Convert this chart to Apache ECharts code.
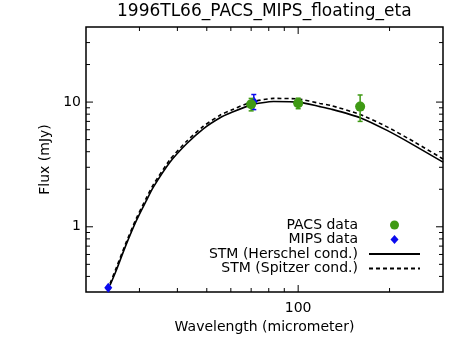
<!DOCTYPE html>
<html lang="en">
<head>
    <meta charset="UTF-8">
    <title>1996TL66_PACS_MIPS_floating_eta</title>
    <script src="https://cdn.jsdelivr.net/npm/echarts@6/dist/echarts.min.js"></script>
    <style>
        html, body { margin: 0; height: 100%; background: #fff; }
        #main { width: 469px; height: 346px; }
    </style>
</head>
<body>
    <div id="main"></div>
    <script>
        // axis ranges
        var X_MIN = 20, X_MAX = 300;
        var Y_MIN = 0.3, Y_MAX = 40;

        // tick values (log axes)
        var xMajorTicks = [100];
        var xMinorTicks = [30, 40, 50, 60, 70, 80, 90, 200];
        var yMajorTicks = [1, 10];
        var yMinorTicks = [0.4, 0.5, 0.6, 0.7, 0.8, 0.9, 2, 3, 4, 5, 6, 7, 8, 9, 20, 30];

        // observations
        var pacsWave = [70, 100, 160];
        var pacsFlux = [9.6, 9.8, 9.2];
        var pacsErr = [1.1, 0.95, 2.2];
        var mipsWave = [23.68, 71.42];
        var mipsFlux = [0.324, 10.1];
        var mipsErr = [0.005, 1.4];

        // model curves
        var modelWave = [24, 25, 27, 29.3, 31.6, 33.3, 37.8, 42.9, 48.7, 55.3, 60, 70, 83, 100, 118, 128, 160, 197, 241, 300];
        var stmHerschel = [0.34, 0.43, 0.70, 1.12, 1.62, 2.07, 3.29, 4.63, 6.11, 7.49, 8.2, 9.5, 10.1, 10.0, 9.2, 8.8, 7.5, 5.9, 4.5, 3.3];
        var stmSpitzer = [0.35, 0.45, 0.73, 1.17, 1.7, 2.17, 3.45, 4.85, 6.4, 7.85, 8.6, 10.0, 10.7, 10.6, 9.75, 9.4, 7.95, 6.3, 4.8, 3.5];

        var FONT = 'DejaVu Sans';
        var PACS_COLOR = '#3f9a14';
        var MIPS_COLOR = '#0a0aee';

        function pairs(xs, ys) {
            return xs.map(function (x, i) { return [x, ys[i]]; });
        }

        // ticks on both sides of the frame, pointing inward
        function renderXTick(params, api) {
            var v = api.value(0);
            var len = xMajorTicks.indexOf(v) >= 0 ? 7 : 4;
            var b = api.coord([v, Y_MIN]);
            var t = api.coord([v, Y_MAX]);
            var st = { stroke: '#000', lineWidth: 1 };
            return {
                type: 'group',
                children: [
                    { type: 'line', shape: { x1: b[0], y1: b[1], x2: b[0], y2: b[1] - len }, style: st },
                    { type: 'line', shape: { x1: t[0], y1: t[1], x2: t[0], y2: t[1] + len }, style: st }
                ]
            };
        }
        function renderYTick(params, api) {
            var v = api.value(1);
            var len = yMajorTicks.indexOf(v) >= 0 ? 7 : 4;
            var l = api.coord([X_MIN, v]);
            var r = api.coord([X_MAX, v]);
            var st = { stroke: '#000', lineWidth: 1 };
            return {
                type: 'group',
                children: [
                    { type: 'line', shape: { x1: l[0], y1: l[1], x2: l[0] + len, y2: l[1] }, style: st },
                    { type: 'line', shape: { x1: r[0], y1: r[1], x2: r[0] - len, y2: r[1] }, style: st }
                ]
            };
        }
        function errorBar(color) {
            return function (params, api) {
                var x = api.value(0), y = api.value(1), e = api.value(2);
                var hi = api.coord([x, y + e]);
                var lo = api.coord([x, y - e]);
                var st = { stroke: color, lineWidth: 1.5 };
                return {
                    type: 'group',
                    children: [
                        { type: 'line', shape: { x1: hi[0], y1: hi[1], x2: lo[0], y2: lo[1] }, style: st },
                        { type: 'line', shape: { x1: hi[0] - 2.5, y1: hi[1], x2: hi[0] + 2.5, y2: hi[1] }, style: st },
                        { type: 'line', shape: { x1: lo[0] - 2.5, y1: lo[1], x2: lo[0] + 2.5, y2: lo[1] }, style: st }
                    ]
                };
            };
        }

        // diamond centred in a 51x9 box so the legend icon is not stretched
        var LEGEND_DIAMOND = 'path://M0,0 M51,9 M25.5,0 L29.5,4.5 L25.5,9 L21.5,4.5 Z';

        var myChart = echarts.init(document.getElementById('main'));
        var option = {
            animation: false,
            backgroundColor: '#fff',
            textStyle: { fontFamily: FONT, color: '#000' },
            title: {
                text: '1996TL66_PACS_MIPS_floating_eta',
                left: 117,
                top: 3,
                padding: 0,
                textStyle: { fontFamily: FONT, fontSize: 17, fontWeight: 'normal', color: '#000' }
            },
            grid: {
                left: 86, right: 26, top: 27, bottom: 54,
                show: true, borderColor: '#000', borderWidth: 1.5, backgroundColor: 'transparent'
            },
            legend: {
                data: [
                    { name: 'PACS data', icon: 'circle' },
                    { name: 'MIPS data', icon: LEGEND_DIAMOND },
                    { name: 'STM (Herschel cond.)', itemStyle: { opacity: 0 } },
                    { name: 'STM (Spitzer cond.)', itemStyle: { opacity: 0 } }
                ],
                orient: 'vertical',
                align: 'right',
                right: 48,
                top: 218,
                padding: 0,
                itemWidth: 51,
                itemHeight: 9,
                itemGap: 0.5,
                selectedMode: false,
                textStyle: { fontFamily: FONT, fontSize: 14, lineHeight: 14, color: '#000', padding: [0, 6, 0, 0] }
            },
            xAxis: {
                type: 'log',
                logBase: 10,
                min: X_MIN,
                max: X_MAX,
                name: 'Wavelength (micrometer)',
                nameLocation: 'middle',
                nameGap: 26,
                nameTextStyle: { fontFamily: FONT, fontSize: 14, color: '#000' },
                axisLine: { show: false },
                axisTick: { show: false },
                splitLine: { show: false },
                axisLabel: {
                    margin: 9,
                    fontFamily: FONT, fontSize: 14, color: '#000',
                    showMinLabel: false, showMaxLabel: false,
                    formatter: function (v) { return xMajorTicks.indexOf(Math.round(v)) >= 0 ? String(Math.round(v)) : ''; }
                }
            },
            yAxis: {
                type: 'log',
                logBase: 10,
                min: Y_MIN,
                max: Y_MAX,
                name: 'Flux (mJy)',
                nameLocation: 'middle',
                nameGap: 33,
                nameTextStyle: { fontFamily: FONT, fontSize: 14, color: '#000' },
                axisLine: { show: false },
                axisTick: { show: false },
                splitLine: { show: false },
                axisLabel: {
                    margin: 5,
                    fontFamily: FONT, fontSize: 14, color: '#000',
                    showMinLabel: false, showMaxLabel: false,
                    formatter: function (v) {
                        var r = Math.round(v * 1000) / 1000;
                        return yMajorTicks.indexOf(r) >= 0 ? String(r) : '';
                    }
                }
            },
            series: [
                {
                    type: 'custom', name: 'xticks', silent: true, z: 5,
                    renderItem: renderXTick,
                    data: xMajorTicks.concat(xMinorTicks).map(function (v) { return [v, Y_MIN]; })
                },
                {
                    type: 'custom', name: 'yticks', silent: true, z: 5,
                    renderItem: renderYTick,
                    data: yMajorTicks.concat(yMinorTicks).map(function (v) { return [X_MIN, v]; })
                },
                {
                    name: 'STM (Herschel cond.)',
                    type: 'line',
                    smooth: 0.2,
                    symbol: 'none',
                    color: '#000',
                    lineStyle: { color: '#000', width: 1.6, type: 'solid' },
                    data: pairs(modelWave, stmHerschel)
                },
                {
                    name: 'STM (Spitzer cond.)',
                    type: 'line',
                    smooth: 0.2,
                    symbol: 'none',
                    color: '#000',
                    lineStyle: { color: '#000', width: 1.6, type: [4, 3] },
                    data: pairs(modelWave, stmSpitzer)
                },
                {
                    type: 'custom', name: 'mipsErr', z: 3,
                    renderItem: errorBar(MIPS_COLOR),
                    data: mipsWave.map(function (x, i) { return [x, mipsFlux[i], mipsErr[i]]; })
                },
                {
                    name: 'MIPS data',
                    type: 'scatter',
                    symbol: 'diamond',
                    symbolSize: [8, 10],
                    itemStyle: { color: MIPS_COLOR, opacity: 1 },
                    z: 3,
                    data: pairs(mipsWave, mipsFlux)
                },
                {
                    type: 'custom', name: 'pacsErr', z: 4,
                    renderItem: errorBar(PACS_COLOR),
                    data: pacsWave.map(function (x, i) { return [x, pacsFlux[i], pacsErr[i]]; })
                },
                {
                    name: 'PACS data',
                    type: 'scatter',
                    symbol: 'circle',
                    symbolSize: 10,
                    itemStyle: { color: PACS_COLOR, opacity: 1 },
                    z: 4,
                    data: pairs(pacsWave, pacsFlux)
                }
            ]
        };
        myChart.setOption(option);
    </script>
</body>
</html>
